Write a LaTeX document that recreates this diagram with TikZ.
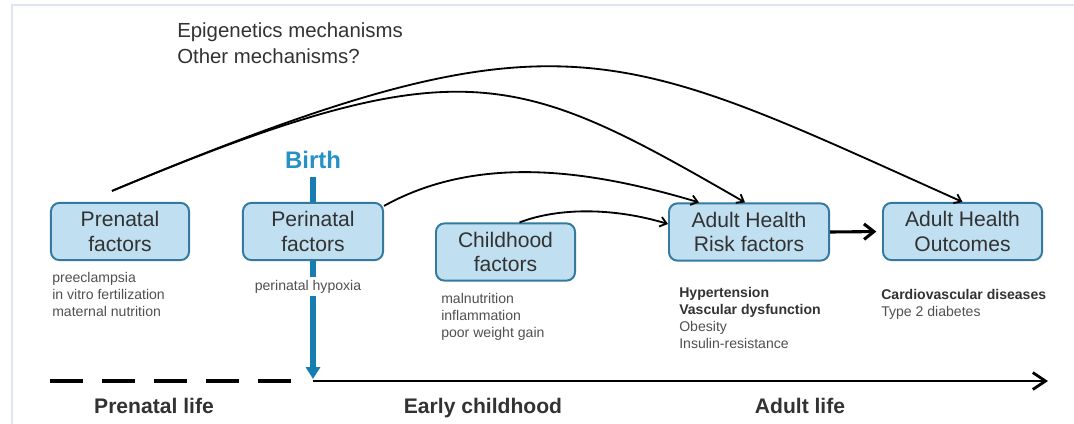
\documentclass[tikz,border=0pt]{standalone}
\usepackage{fontspec}
\setmainfont{Liberation Sans}
\usepackage{tikz}
\usetikzlibrary{arrows.meta}
\definecolor{boxfill}{RGB}{192,224,241}
\definecolor{boxline}{RGB}{52,122,160}
\definecolor{birthblue}{RGB}{38,145,198}
\definecolor{barblue}{RGB}{22,124,178}
\definecolor{textgray}{RGB}{50,50,50}
\definecolor{softgray}{RGB}{80,80,80}
\definecolor{framecol}{RGB}{222,228,245}

\begin{document}
\begin{tikzpicture}[x=0.025cm, y=-0.025cm,
	factor/.style={draw=boxline, fill=boxfill, line width=1.4pt, rounded corners=6pt, align=center, text=textgray, font=\fontsize{15}{17.7}\selectfont, minimum height=1.43cm, inner sep=0pt},
	notes/.style={anchor=north west, align=left, inner sep=0pt, text=softgray, font=\fontsize{10}{12}\selectfont},
	era/.style={anchor=base, font=\bfseries\fontsize{15}{18}\selectfont, text=textgray},
	link/.style={-{Straight Barb[length=4.5pt,width=7pt]}, line width=1.3pt},
	]
	\useasboundingbox (0,0) rectangle (1074,423);
	\draw[framecol, line width=1pt] (12,440) -- (12,5) -- (1090,5);

	\node[anchor=north west, align=left, inner sep=0pt, text=textgray, font=\fontsize{14.5}{19}\selectfont] (mech) at (177,22) {Epigenetics mechanisms\\Other mechanisms?};

	\node[anchor=base, inner sep=0pt, text=birthblue, font=\bfseries\fontsize{17}{20}\selectfont] (birth) at (313,168) {Birth};
	\coordinate (birthtip) at (313,379);
	\draw[barblue, line width=4pt, -{Triangle[length=8.5pt,width=10pt]}, shorten <=6pt] (birth.south) -- (birthtip);

	\node[factor, minimum width=3.45cm] (pre) at (120,231.5) {Prenatal\\factors};
	\node[factor, minimum width=3.5cm] (peri) at (313,231.5) {Perinatal\\factors};
	\node[factor, minimum width=3.475cm] (child) at (505.5,252) {Childhood\\factors};
	\node[factor, minimum width=4cm] (risk) at (749,232) {Adult Health\\Risk factors};
	\node[factor, minimum width=3.975cm] (out) at (962.5,231.5) {Adult Health\\Outcomes};

	\node[notes] (prenotes) at (52,272) {preeclampsia\\in vitro fertilization\\maternal nutrition};
	\node[notes, anchor=base, fill=white, inner sep=2pt] (hypoxia) at (308,290) {perinatal hypoxia};
	\node[notes] (childnotes) at (441,293) {malnutrition\\inflammation\\poor weight gain};
	\node[notes] (risknotes) at (679,287) {{\color{textgray}\bfseries Hypertension}\\{\color{textgray}\bfseries Vascular dysfunction}\\Obesity\\Insulin-resistance};
	\node[notes] (outnotes) at (881,289) {{\color{textgray}\bfseries Cardiovascular diseases}\\Type 2 diabetes};

	\draw[link] ([shift={(-8,-11)}]pre.north) .. controls (562,3) and (612,45) .. (out.north);
	\draw[link] ([shift={(-8,-11)}]pre.north) .. controls (462,45) and (515,70) .. ([shift={(-4,0)}]risk.north);
	\draw[link] ([shift={(0,4)}]peri.north east) .. controls (483,151) and (600,173) .. ([shift={(31,0)}]risk.north west);
	\draw[link] ([shift={(14,0)}]child.north) .. controls (560,207) and (615,208) .. ([shift={(0,-8)}]risk.west);
	\draw[-{Straight Barb[length=7pt,width=11pt]}, line width=2.2pt, shorten >=4pt] (risk.east) -- (out.west);

	\foreach \d in {0,...,4}
		\draw[line width=2.2pt] (50+\d*52,381) -- ++(33,0);
	\coordinate (tlmid) at (313,381);
	\coordinate (tlend) at (1048,381);
	\draw[line width=2pt, -{Straight Barb[length=9pt,width=12pt]}] (tlmid) -- (tlend);

	\node[era] (prelife) at (154,413) {Prenatal life};
	\node[era] (early) at (483,413) {Early childhood};
	\node[era] (adult) at (800,413) {Adult life};
\end{tikzpicture}
\end{document}
